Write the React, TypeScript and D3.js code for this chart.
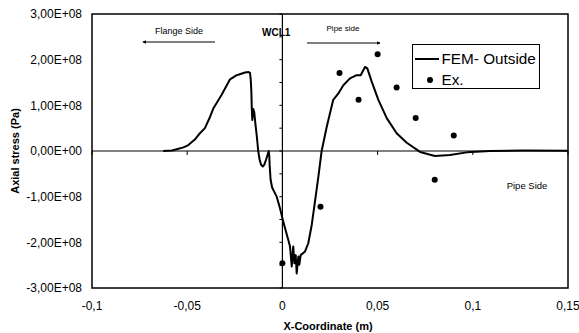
import React from "react";
import * as d3 from "d3";

const femX = [-0.0626, -0.058, -0.0555, -0.052, -0.0494, -0.046, -0.0433, -0.0407, -0.0385, -0.0363, -0.0319, -0.0275, -0.024, -0.0196, -0.0178, -0.017, -0.0166, -0.0163, -0.0161, -0.0158, -0.0153, -0.0148, -0.0142, -0.0135, -0.0127, -0.012, -0.0112, -0.0103, -0.0095, -0.0085, -0.0072, -0.0069, -0.0067, -0.0062, -0.0054, -0.003, -0.0013, 0, 0.0014, 0.0031, 0.004, 0.0049, 0.0057, 0.0063, 0.007, 0.0075, 0.0084, 0.0089, 0.0096, 0.0119, 0.0136, 0.0154, 0.0171, 0.0189, 0.0206, 0.0233, 0.0267, 0.0294, 0.032, 0.0355, 0.039, 0.0411, 0.0434, 0.0446, 0.0469, 0.0504, 0.0548, 0.06, 0.0653, 0.0723, 0.0801, 0.088, 0.0968, 0.109, 0.1265, 0.15];
const femY = [0, 0.01e8, 0.04e8, 0.08e8, 0.13e8, 0.25e8, 0.39e8, 0.5e8, 0.7e8, 0.93e8, 1.23e8, 1.57e8, 1.66e8, 1.72e8, 1.73e8, 1.71e8, 1.55e8, 1.3e8, 0.95e8, 0.68e8, 0.92e8, 0.85e8, 0.6e8, 0.35e8, 0, -0.18e8, -0.3e8, -0.34e8, -0.3e8, -0.18e8, 0, -0.1e8, -0.3e8, -0.63e8, -0.8e8, -1.0e8, -1.25e8, -1.47e8, -1.69e8, -1.95e8, -2.09e8, -2.53e8, -2.09e8, -2.46e8, -2.28e8, -2.68e8, -2.31e8, -2.49e8, -2.28e8, -2.2e8, -2.02e8, -1.62e8, -1.11e8, -0.56e8, 0, 0.53e8, 1.12e8, 1.26e8, 1.44e8, 1.59e8, 1.66e8, 1.66e8, 1.84e8, 1.81e8, 1.52e8, 1.12e8, 0.72e8, 0.39e8, 0.18e8, -0.02e8, -0.11e8, -0.09e8, -0.03e8, 0, 0.01e8, 0.005e8];

const exX = [0, 0.02, 0.03, 0.04, 0.05, 0.06, 0.07, 0.08, 0.09];
const exY = [-2.46e8, -1.22e8, 1.71e8, 1.12e8, 2.12e8, 1.39e8, 0.72e8, -0.63e8, 0.34e8];

const xTicks = [-0.1, -0.05, 0, 0.05, 0.1, 0.15];
const xTickLabels = ["-0,1", "-0,05", "0", "0,05", "0,1", "0,15"];
const yTicks = [3e8, 2e8, 1e8, 0, -1e8, -2e8, -3e8];
const yTickLabels = ["3,00E+08", "2,00E+08", "1,00E+08", "0,00E+00", "-1,00E+08", "-2,00E+08", "-3,00E+08"];
const yMinorTicks = d3.range(-3e8, 3e8 + 1, 0.5e8);

const W = 579, H = 333;
const L = 92, R = 568, T = 14, B = 288;
const FONT = "Liberation Sans, Arial, sans-serif";

export default function App() {
  const x = d3.scaleLinear().domain([-0.1, 0.15]).range([L, R]);
  const y = d3.scaleLinear().domain([-3e8, 3e8]).range([B, T]);
  const pts = femX.map((v, i) => [v, femY[i]] as [number, number]);
  const line = d3.line<[number, number]>().x(d => x(d[0])).y(d => y(d[1]));
  const x0 = x(0), y0 = y(0);

  return (
    <svg width={W} height={H} style={{ position: "absolute", left: 0, top: 0, background: "#fff" }} fontFamily={FONT}>
      <defs>
        <marker id="ah" viewBox="0 0 6 6" refX="5" refY="3" markerWidth="4" markerHeight="4" orient="auto">
          <path d="M0,0 L6,3 L0,6 z" fill="#000" />
        </marker>
      </defs>
      <rect x={L} y={T} width={R - L} height={B - T} fill="#fff" stroke="#000" strokeWidth={1.5} />
      {/* axes through origin */}
      <line x1={L} x2={R} y1={y0} y2={y0} stroke="#000" strokeWidth={1.2} />
      <line x1={x0} x2={x0} y1={T} y2={B} stroke="#000" strokeWidth={1.2} />
      {yMinorTicks.map((v, i) => (
        <line key={"ym" + i} x1={x0 - 3} x2={x0} y1={y(v)} y2={y(v)} stroke="#000" strokeWidth={1} />
      ))}
      {xTicks.map((v, i) => (
        <line key={"xm" + i} x1={x(v)} x2={x(v)} y1={y0} y2={y0 + 4} stroke="#000" strokeWidth={1} />
      ))}
      {/* tick labels */}
      {yTicks.map((v, i) => (
        <text key={"yl" + i} x={82} y={y(v)} dy="0.35em" textAnchor="end" fontSize={12} fill="#000">{yTickLabels[i]}</text>
      ))}
      {xTicks.map((v, i) => (
        <text key={"xl" + i} x={x(v)} y={310} textAnchor="middle" fontSize={12} fill="#000">{xTickLabels[i]}</text>
      ))}
      {/* axis titles */}
      <text x={328} y={330} textAnchor="middle" fontSize={11} fontWeight="bold">X-Coordinate (m)</text>
      <text transform={`translate(19,151) rotate(-90)`} textAnchor="middle" fontSize={11} fontWeight="bold">Axial stress (Pa)</text>
      {/* FEM curve */}
      <path d={line(pts) || ""} fill="none" stroke="#000" strokeWidth={2} strokeLinejoin="round" />
      {/* Experimental points */}
      {exX.map((v, i) => (
        <circle key={"ex" + i} cx={x(v)} cy={y(exY[i])} r={3} fill="#000" />
      ))}
      {/* annotations */}
      <text x={179} y={34} textAnchor="middle" fontSize={9} fill="#000">Flange Side</text>
      <line x1={215} x2={143} y1={42} y2={42} stroke="#000" strokeWidth={1} markerEnd="url(#ah)" />
      <text x={262} y={36} fontSize={10} fontWeight="bold" fill="#000">WCL1</text>
      <text x={343} y={31} textAnchor="middle" fontSize={8} fill="#000">Pipe side</text>
      <line x1={307} x2={380} y1={43} y2={43} stroke="#000" strokeWidth={1} markerEnd="url(#ah)" />
      <text x={527} y={189} textAnchor="middle" fontSize={9.5} fill="#000">Pipe Side</text>
      {/* legend */}
      <rect x={412.5} y={44.5} width={127} height={44} fill="#fff" stroke="#000" strokeWidth={1} />
      <line x1={415} x2={439} y1={59} y2={59} stroke="#000" strokeWidth={2} />
      <text x={441.5} y={59} dy="0.35em" fontSize={15.3} fill="#000">FEM- Outside</text>
      <circle cx={430} cy={80} r={3} fill="#000" />
      <text x={441.5} y={80} dy="0.35em" fontSize={15.3} fill="#000">Ex.</text>
    </svg>
  );
}
